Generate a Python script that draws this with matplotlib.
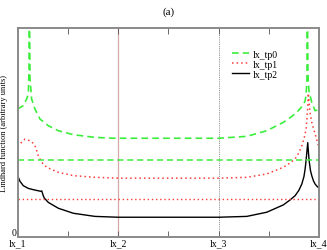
import matplotlib
matplotlib.use("Agg")
import matplotlib.pyplot as plt
from matplotlib.ticker import FixedLocator

plt.rcParams['font.family'] = ['Liberation Serif', 'DejaVu Serif']

# ---- data ----
tick_pos = [0, 1, 2, 3]
tick_labels = ["lx_1", "lx_2", "lx_3", "lx_4"]
minor_pos = [0.5, 1.5, 2.5]

x_tp0 = [0.0, 0.056, 0.090, 0.106, 0.113, 0.116, 0.123, 0.139, 0.172, 0.222, 0.305, 0.405,
         0.554, 0.770, 0.969, 1.0, 2.0, 2.281, 2.48, 2.645, 2.72, 2.779, 2.82, 2.845,
         2.862, 2.872, 2.880, 2.884, 2.890, 2.900, 2.928, 2.961, 3.0]
y_tp0 = [0.614, 0.630, 0.662, 0.686, 0.800, 1.2, 0.760, 0.662, 0.614, 0.566, 0.534, 0.510,
         0.491, 0.478, 0.474, 0.474, 0.474, 0.483, 0.510, 0.550, 0.575, 0.598, 0.620, 0.638,
         0.652, 0.686, 0.750, 1.2, 0.780, 0.700, 0.646, 0.606, 0.610]

x_tp1 = [0.0, 0.04, 0.073, 0.122, 0.156, 0.179, 0.205, 0.239, 0.289, 0.405, 0.554, 0.77,
         1.0, 2.0, 2.281, 2.48, 2.645, 2.71, 2.762, 2.80, 2.829, 2.855, 2.872, 2.885,
         2.894, 2.91, 2.928, 2.961, 3.0]
y_tp1 = [0.434, 0.455, 0.470, 0.462, 0.450, 0.431, 0.390, 0.359, 0.335, 0.311, 0.295, 0.287,
         0.283, 0.283, 0.287, 0.303, 0.335, 0.355, 0.375, 0.405, 0.438, 0.480, 0.518, 0.600,
         0.689, 0.600, 0.550, 0.495, 0.430]

x_tp2 = [0.0, 0.023, 0.056, 0.106, 0.172, 0.232, 0.240, 0.255, 0.265, 0.305, 0.405, 0.554,
         0.77, 1.0, 2.0, 2.281, 2.48, 2.645, 2.71, 2.762, 2.80, 2.829, 2.850, 2.862,
         2.872, 2.879, 2.888, 2.896, 2.904, 2.915, 2.928, 2.945, 2.961, 2.98, 3.0]
y_tp2 = [0.295, 0.268, 0.247, 0.234, 0.226, 0.220, 0.222, 0.199, 0.188, 0.167, 0.139, 0.115,
         0.100, 0.096, 0.096, 0.100, 0.120, 0.155, 0.178, 0.199, 0.225, 0.255, 0.290, 0.327,
         0.370, 0.407, 0.453, 0.400, 0.359, 0.320, 0.295, 0.270, 0.255, 0.244, 0.236]

h_tp0 = 0.372
h_tp1 = 0.182
vline_a = 1
vline_b = 2

green = '#3cee3c'
red = '#ff3a3a'

fig = plt.figure(figsize=(3.27, 2.51), dpi=100)
ax = fig.add_axes([0.054, 0.0506, 0.9215, 0.8326])

ax.axvline(vline_a, color='#d7a8a8', lw=0.9, zorder=1)
ax.axvline(vline_b, color='#707070', lw=0.6, ls=(0, (1, 1.2)), zorder=1)

ax.plot(x_tp0, y_tp0, color=green, lw=1.2, ls=(0, (4, 2.5)), label='lx_tp0')
ax.plot(x_tp1, y_tp1, color=red, lw=1.1, ls=(0, (1, 2)), label='lx_tp1')
ax.plot(x_tp2, y_tp2, color='black', lw=1.0, label='lx_tp2')

ax.axhline(h_tp0, color=green, lw=1.1, ls=(0, (4, 2.5)))
ax.axhline(h_tp1, color=red, lw=1.0, ls=(0, (1, 2)))

ax.set_xlim(0, 3)
ax.set_ylim(0, 1)
ax.set_xticks(tick_pos)
ax.set_xticklabels(tick_labels, fontsize=7)
ax.xaxis.set_minor_locator(FixedLocator(minor_pos))
ax.set_yticks([0])
ax.set_yticklabels(["0"], fontsize=7)
for t in ax.get_yticklabels():
    t.set_va('bottom')
ax.tick_params(axis='both', which='both', direction='in', top=True, right=False,
               length=4, width=0.6, color='#555555', pad=0.5)
ax.tick_params(axis='y', length=0, pad=1)
for s in ax.spines.values():
    s.set_color('#8a8a8a')
    s.set_linewidth(1.4)

ax.set_ylabel("Lindhard function (arbitrary units)", fontsize=6)
ax.yaxis.set_label_coords(-0.032, 0.5)
fig.text(0.517, 0.952, "(a)", ha='center', va='center', fontsize=8)

leg = ax.legend(loc='upper left', bbox_to_anchor=(0.69, 0.93), frameon=False, fontsize=7,
                handlelength=1.7, handletextpad=0.4, labelspacing=0.1, borderpad=0.2)

fig.savefig("out.png", dpi=100)
